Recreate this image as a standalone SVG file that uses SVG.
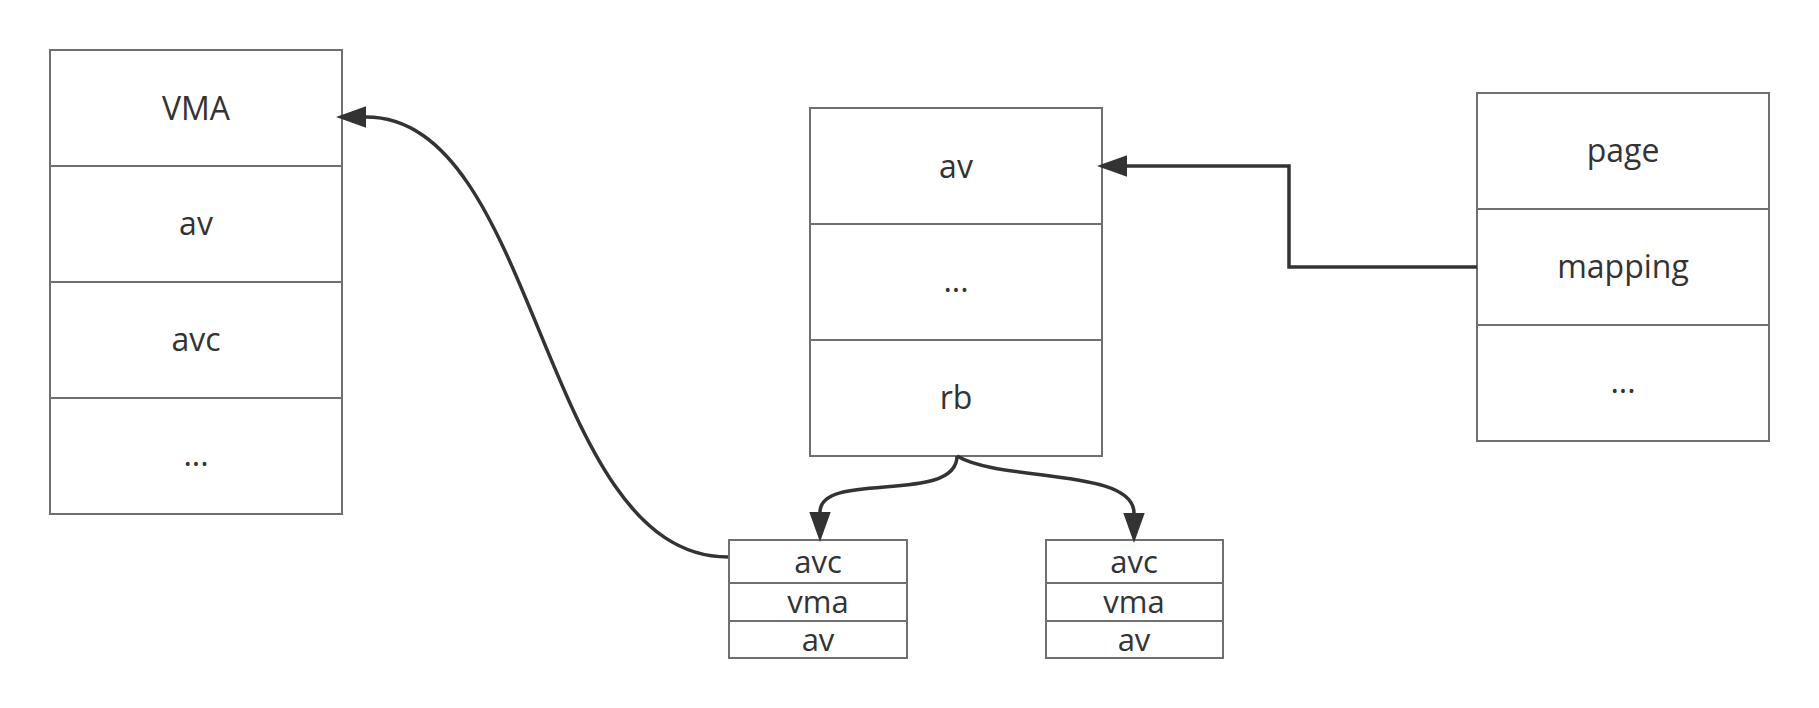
<svg xmlns="http://www.w3.org/2000/svg" width="1819" height="708" viewBox="0 0 1819 708">
<style>
.box{fill:#fff;stroke:#707070;stroke-width:2}
.div{stroke:#707070;stroke-width:2}
.t{font-family:"Open Sans","Noto Sans","Liberation Sans",sans-serif;font-size:32px;fill:#333;text-anchor:middle}
.s{font-size:31px}
.c{fill:none;stroke:#333;stroke-width:3.5}
</style>
<defs>
<marker id="arr" markerUnits="userSpaceOnUse" markerWidth="30" markerHeight="22" refX="0" refY="10" orient="auto" viewBox="0 0 28 20">
<path d="M0,0 L28,10 L0,20 Z" fill="#333"/>
</marker>
</defs>
<rect width="1819" height="708" fill="#fff"/>
<g id="vma">
<rect class="box" x="50" y="50" width="292" height="464"/>
<line class="div" x1="50" y1="166" x2="342" y2="166"/>
<line class="div" x1="50" y1="282" x2="342" y2="282"/>
<line class="div" x1="50" y1="398" x2="342" y2="398"/>
<text class="t" x="196" y="120">VMA</text>
<text class="t" x="196" y="235">av</text>
<text class="t" x="196" y="351">avc</text>
<text class="t" x="196" y="466">...</text>
</g>
<g id="anon_vma">
<rect class="box" x="810" y="108" width="292" height="348"/>
<line class="div" x1="810" y1="224" x2="1102" y2="224"/>
<line class="div" x1="810" y1="340" x2="1102" y2="340"/>
<text class="t" x="956" y="178">av</text>
<text class="t" x="956" y="292">...</text>
<text class="t" x="956" y="409">rb</text>
</g>
<g id="page">
<rect class="box" x="1477" y="93" width="292" height="348"/>
<line class="div" x1="1477" y1="209" x2="1769" y2="209"/>
<line class="div" x1="1477" y1="325" x2="1769" y2="325"/>
<text class="t" x="1623" y="162">page</text>
<text class="t" x="1623" y="278">mapping</text>
<text class="t" x="1623" y="393">...</text>
</g>
<g id="avc1">
<rect class="box" x="729" y="540" width="178" height="118"/>
<line class="div" x1="729" y1="583" x2="907" y2="583"/>
<line class="div" x1="729" y1="621" x2="907" y2="621"/>
<text class="t s" x="818" y="573">avc</text>
<text class="t s" x="818" y="613">vma</text>
<text class="t s" x="818" y="651">av</text>
</g>
<g id="avc2">
<rect class="box" x="1046" y="540" width="177" height="118"/>
<line class="div" x1="1046" y1="583" x2="1223" y2="583"/>
<line class="div" x1="1046" y1="621" x2="1223" y2="621"/>
<text class="t s" x="1134" y="573">avc</text>
<text class="t s" x="1134" y="613">vma</text>
<text class="t s" x="1134" y="651">av</text>
</g>
<g id="connectors">
<path class="c" marker-end="url(#arr)" d="M728,557 C540,557 540,117 366,117"/>
<path class="c" marker-end="url(#arr)" d="M1477,267 H1289 V166 H1127"/>
<path class="c" marker-end="url(#arr)" d="M957,456 C957,505 820,470 820,512"/>
<path class="c" marker-end="url(#arr)" d="M957,456 C1000,482 1134,468 1134,513"/>
</g>
</svg>
